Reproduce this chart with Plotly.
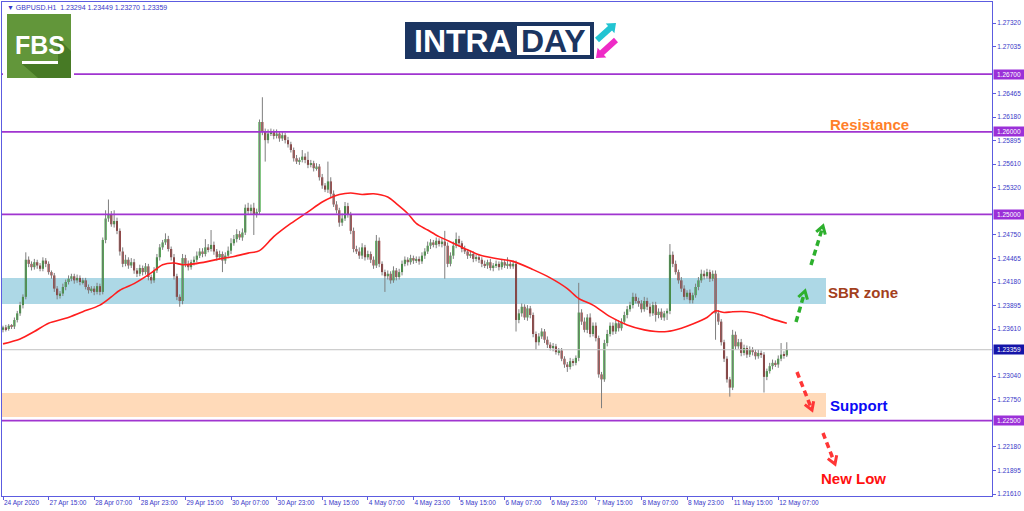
import math
import plotly.graph_objects as go

# GBPUSD H1, 24 Apr 2020 23:00 .. 12 May 2020 10:00
# prices kept in pips (0.0001) so the lists stay short
FIRST_OPEN = 12360
CLOSES = [
    12363, 12361, 12365, 12364, 12372, 12380, 12390, 12400, 12445, 12440,
    12436, 12442, 12438, 12434, 12444, 12440, 12430, 12426, 12410, 12402,
    12404, 12412, 12418, 12422, 12425, 12420, 12423, 12418, 12420, 12412,
    12408, 12410, 12406, 12413, 12406, 12469, 12495, 12500, 12488, 12492,
    12480, 12455, 12440, 12445, 12438, 12442, 12432, 12428, 12435, 12430,
    12437, 12424, 12420, 12432, 12448, 12460, 12466, 12470, 12458, 12448,
    12425, 12400, 12395, 12447, 12440, 12436, 12442, 12445, 12450, 12455,
    12452, 12460, 12458, 12463, 12455, 12448, 12452, 12444, 12450, 12456,
    12465, 12470, 12476, 12472, 12478, 12508, 12504, 12508, 12500, 12503,
    12612, 12600, 12590, 12598, 12600, 12595, 12598, 12592, 12596, 12590,
    12585, 12578, 12568, 12564, 12566, 12570, 12566, 12560, 12562, 12556,
    12558, 12545, 12535, 12530, 12540, 12525, 12512, 12505, 12490, 12495,
    12510, 12500, 12480, 12458, 12455, 12450, 12460, 12448, 12452, 12445,
    12438, 12468, 12440, 12430, 12425, 12428, 12420, 12432, 12424, 12430,
    12440, 12445, 12442, 12447, 12444, 12446, 12443, 12450, 12455, 12462,
    12466, 12463, 12468, 12464, 12467, 12462, 12440, 12450, 12462, 12470,
    12465, 12458, 12455, 12450, 12452, 12446, 12448, 12445, 12440, 12438,
    12442, 12435, 12438, 12440, 12436, 12442, 12438, 12440, 12437, 12440,
    12372, 12380, 12388, 12375, 12386, 12378, 12355, 12345, 12352, 12358,
    12348, 12342, 12338, 12340, 12333, 12335, 12325, 12318, 12315, 12322,
    12320, 12326, 12381, 12370, 12360, 12375, 12355, 12365, 12350, 12306,
    12300, 12344, 12355, 12365, 12358, 12368, 12362, 12370, 12378, 12385,
    12390, 12400, 12395, 12392, 12385, 12395, 12388, 12380, 12390, 12378,
    12382, 12375, 12380, 12383, 12451, 12440, 12430, 12420, 12410, 12400,
    12405, 12396, 12402, 12412, 12420, 12428, 12425, 12430, 12422, 12428,
    12380, 12370, 12345, 12325, 12300, 12290, 12354, 12340, 12345, 12332,
    12338, 12330, 12336, 12333, 12328, 12332, 12330, 12303, 12310, 12316,
    12320, 12318, 12325, 12330, 12329, 12336,
]
# wick lengths above / below the body, pips
UPPER_WICK = [
    2, 3, 2, 2, 3, 3, 4, 3, 9, 4,
    3, 4, 3, 3, 4, 3, 3, 2, 3, 3,
    3, 4, 3, 4, 3, 3, 4, 3, 3, 3,
    3, 3, 3, 4, 3, 3, 10, 18, 4, 13,
    4, 3, 5, 6, 3, 5, 4, 3, 4, 3,
    4, 3, 3, 4, 4, 4, 3, 7, 4, 3,
    4, 3, 3, 5, 4, 4, 3, 4, 5, 4,
    4, 10, 4, 18, 4, 3, 4, 3, 4, 5,
    6, 5, 6, 4, 5, 4, 6, 4, 6, 4,
    3, 30, 4, 5, 4, 3, 5, 3, 4, 3,
    4, 3, 3, 4, 3, 8, 4, 10, 4, 3,
    4, 3, 4, 3, 24, 5, 4, 4, 3, 6,
    5, 4, 3, 4, 4, 5, 5, 3, 4, 3,
    4, 7, 4, 3, 3, 4, 3, 5, 3, 4,
    4, 4, 3, 4, 3, 3, 3, 4, 4, 5,
    4, 3, 4, 3, 4, 13, 4, 4, 5, 8,
    4, 3, 4, 3, 4, 3, 3, 4, 3, 4,
    3, 4, 3, 4, 3, 4, 3, 8, 3, 4,
    4, 5, 4, 3, 4, 3, 3, 3, 4, 4,
    3, 4, 3, 4, 3, 3, 3, 3, 3, 4,
    3, 3, 36, 4, 5, 4, 5, 4, 4, 3,
    3, 4, 5, 4, 4, 5, 4, 4, 4, 4,
    4, 5, 4, 4, 4, 5, 4, 4, 4, 4,
    4, 4, 3, 3, 13, 4, 4, 3, 4, 4,
    3, 4, 3, 4, 4, 5, 4, 4, 3, 4,
    4, 4, 3, 3, 3, 3, 6, 4, 4, 4,
    4, 3, 4, 3, 3, 4, 3, 3, 3, 4,
    4, 3, 4, 14, 4, 9,
]
LOWER_WICK = [
    3, 3, 2, 3, 3, 3, 3, 4, 3, 4,
    4, 3, 4, 3, 3, 4, 3, 4, 4, 5,
    4, 3, 4, 3, 3, 4, 3, 4, 3, 3,
    4, 3, 4, 3, 4, 3, 4, 4, 3, 4,
    4, 5, 4, 3, 4, 3, 4, 4, 3, 4,
    3, 4, 4, 3, 3, 4, 3, 3, 3, 4,
    4, 4, 7, 4, 4, 4, 3, 4, 3, 3,
    4, 3, 4, 3, 4, 4, 3, 14, 4, 3,
    4, 3, 4, 3, 4, 3, 4, 4, 25, 4,
    3, 4, 26, 4, 3, 4, 3, 4, 3, 4,
    4, 3, 4, 3, 4, 3, 4, 4, 3, 4,
    3, 4, 4, 3, 4, 4, 3, 4, 5, 4,
    3, 4, 4, 4, 3, 4, 4, 4, 3, 4,
    4, 3, 4, 4, 19, 4, 4, 3, 4, 3,
    4, 3, 4, 3, 4, 3, 4, 3, 4, 3,
    4, 3, 4, 3, 4, 40, 4, 3, 4, 3,
    4, 4, 3, 4, 3, 4, 3, 4, 4, 3,
    4, 3, 4, 3, 4, 3, 3, 4, 3, 3,
    14, 4, 4, 3, 4, 4, 4, 9, 4, 3,
    4, 4, 3, 4, 3, 4, 3, 4, 6, 3,
    4, 3, 4, 4, 3, 4, 4, 3, 4, 4,
    35, 3, 4, 3, 4, 3, 4, 3, 3, 4,
    3, 4, 3, 4, 4, 3, 4, 4, 3, 8,
    4, 3, 4, 8, 4, 4, 3, 4, 4, 4,
    3, 4, 4, 3, 4, 3, 4, 3, 4, 3,
    32, 4, 4, 4, 4, 11, 3, 4, 3, 4,
    3, 4, 3, 4, 4, 3, 4, 19, 4, 3,
    4, 3, 4, 3, 4, 2,
]

# moving average (red line), read at a subset of bars
MA_BAR = [0, 6, 11, 16, 22, 28, 34, 38, 41, 46, 52, 56, 60, 63, 67, 72, 76, 81, 86, 90,
          95, 101, 107, 112, 118, 122, 126, 130, 135, 138, 142, 145, 149, 153, 158, 163, 167, 172,
          179, 186, 192, 198, 202, 207, 213, 219, 225, 229, 233, 238, 242, 247, 250, 253, 256,
          261, 266, 270, 275]
MA_VAL = [12343, 12349, 12358, 12368, 12374, 12382, 12390, 12400, 12408, 12416, 12429, 12439, 12441, 12439, 12440, 12443, 12446, 12449, 12453, 12456,
          12473, 12489, 12503, 12515, 12524, 12526, 12524, 12525, 12521, 12513, 12501, 12489, 12481, 12473, 12465, 12457, 12451, 12447,
          12443, 12433, 12423, 12410, 12398, 12390, 12376, 12366, 12360, 12358, 12358, 12362, 12367, 12375, 12383, 12381, 12382,
          12382, 12378, 12373, 12368]

TIME_TICKS = [0, 16, 32, 48, 64, 80, 96, 112, 128, 144, 160, 176, 192, 208, 224, 240, 256, 272]
TIME_LABELS = ['24 Apr 2020', '27 Apr 15:00', '28 Apr 07:00', '28 Apr 23:00', '29 Apr 15:00',
               '30 Apr 07:00', '30 Apr 23:00', '1 May 15:00', '4 May 07:00', '4 May 23:00',
               '5 May 15:00', '6 May 07:00', '6 May 23:00', '7 May 15:00', '8 May 07:00',
               '8 May 23:00', '11 May 15:00', '12 May 07:00']
PRICE_TICKS = [1.27320, 1.27035, 1.26465, 1.26180, 1.25895, 1.25610, 1.25320,
               1.24750, 1.24465, 1.24180, 1.23895, 1.23610, 1.23040, 1.22750,
               1.22180, 1.21895, 1.21610]

LEVELS = [1.26700, 1.26000, 1.25000, 1.22500]
LAST_PRICE = 1.23359
SBR_ZONE = (1.23914, 1.24229)
SUPPORT_ZONE = (1.22545, 1.22835)

# ---------------------------------------------------------------
W, H = 1024, 511
L, R, T, B = 2, 992, 2, 496          # plot box in screen pixels
X_RANGE = [-0.35, 347.0]
Y_RANGE = [1.215858, 1.275746]

PURPLE = '#A035D0'
AXIS = '#5C5CE0'
TXT = '#3838C8'


def px(x):
    return (x - L) / (R - L)


def py(y):
    return (B - y) / (B - T)


def path(points, close=False):
    s = 'M ' + ' L '.join(f'{px(a):.5f},{py(b):.5f}' for a, b in points)
    return s + (' Z' if close else '')


opens = [FIRST_OPEN] + CLOSES[:-1]
bars = list(range(len(CLOSES)))
highs = [max(o, c) + u for o, c, u in zip(opens, CLOSES, UPPER_WICK)]
lows = [min(o, c) - d for o, c, d in zip(opens, CLOSES, LOWER_WICK)]

wx, wy = [], []
for i, hi, lo in zip(bars, highs, lows):
    wx += [i, i, None]
    wy += [lo / 1e4, hi / 1e4, None]

body_base = [min(o, c) / 1e4 for o, c in zip(opens, CLOSES)]
body_h = [max(abs(c - o), 0.5) / 1e4 for o, c in zip(opens, CLOSES)]
body_col = ['#1A961A' if c >= o else '#8E1212' for o, c in zip(opens, CLOSES)]

fig = go.Figure()
fig.add_trace(go.Scatter(x=wx, y=wy, mode='lines', line=dict(color='#7E7E7E', width=1),
                         hoverinfo='skip', showlegend=False))
fig.add_trace(go.Bar(x=bars, y=body_h, base=body_base, width=0.72,
                     marker=dict(color=body_col, line=dict(width=0)),
                     hoverinfo='skip', showlegend=False))
fig.add_trace(go.Scatter(x=MA_BAR, y=[v / 1e4 for v in MA_VAL], mode='lines',
                         line=dict(color='#FF1E1E', width=1.6, shape='spline', smoothing=0.8),
                         hoverinfo='skip', showlegend=False))

shapes = []
# zones behind the candles
zone_end = px(826)
shapes.append(dict(type='rect', xref='paper', yref='y', x0=0, x1=zone_end,
                   y0=SBR_ZONE[0], y1=SBR_ZONE[1], fillcolor='#ADD8E6', line_width=0, layer='below'))
shapes.append(dict(type='rect', xref='paper', yref='y', x0=0, x1=zone_end,
                   y0=SUPPORT_ZONE[0], y1=SUPPORT_ZONE[1], fillcolor='#FFDAB9', line_width=0, layer='below'))
shapes.append(dict(type='line', xref='paper', yref='y', x0=0, x1=1, y0=LAST_PRICE, y1=LAST_PRICE,
                   line=dict(color='#C0C0C0', width=1)))
for lv in LEVELS:
    shapes.append(dict(type='line', xref='paper', yref='y', x0=0, x1=1, y0=lv, y1=lv,
                       line=dict(color=PURPLE, width=1.6)))

# FBS logo
shapes.append(dict(type='rect', xref='paper', yref='paper', x0=px(3), x1=px(74), y0=py(82), y1=py(9),
                   fillcolor='white', line_width=0))
shapes.append(dict(type='rect', xref='paper', yref='paper', x0=px(7), x1=px(71), y0=py(78), y1=py(14),
                   fillcolor='#62963A', line_width=0))
shapes.append(dict(type='path', xref='paper', yref='paper',
                   path=path([(57, 37), (71, 51), (71, 78), (38, 78), (22, 64), (58, 64), (58, 52)], True),
                   fillcolor='#477A25', line_width=0))
shapes.append(dict(type='rect', xref='paper', yref='paper', x0=px(22), x1=px(58), y0=py(64), y1=py(61),
                   fillcolor='white', line_width=0))

# INTRADAY logo
shapes.append(dict(type='rect', xref='paper', yref='paper', x0=px(405), x1=px(594), y0=py(59), y1=py(22),
                   fillcolor='#1B3561', line_width=0))
shapes.append(dict(type='rect', xref='paper', yref='paper', x0=px(517), x1=px(590), y0=py(55), y1=py(26),
                   fillcolor='white', line_width=0))


def block_arrow(tail, tip, shaft=6.0, head=13.0, head_len=8.0):
    dx, dy = tip[0] - tail[0], tip[1] - tail[1]
    n = math.hypot(dx, dy)
    ux, uy = dx / n, dy / n
    nx, ny = -uy, ux
    bx, by = tip[0] - ux * head_len, tip[1] - uy * head_len
    s, h = shaft / 2, head / 2
    return [(tail[0] + nx * s, tail[1] + ny * s), (bx + nx * s, by + ny * s), (bx + nx * h, by + ny * h),
            tip, (bx - nx * h, by - ny * h), (bx - nx * s, by - ny * s), (tail[0] - nx * s, tail[1] - ny * s)]


shapes.append(dict(type='path', xref='paper', yref='paper', path=path(block_arrow((597, 40), (616, 23)), True),
                   fillcolor='#22C4D2', line_width=0))
shapes.append(dict(type='path', xref='paper', yref='paper', path=path(block_arrow((616, 40), (596, 58)), True),
                   fillcolor='#EE2BC6', line_width=0))


# dashed forecast arrows
def dashed_arrow(tail, tip, color):
    dx, dy = tip[0] - tail[0], tip[1] - tail[1]
    n = math.hypot(dx, dy)
    ux, uy = dx / n, dy / n
    end = (tip[0] - ux * 3, tip[1] - uy * 3)
    out = [dict(type='line', xref='paper', yref='paper', x0=px(tail[0]), y0=py(tail[1]),
                x1=px(end[0]), y1=py(end[1]), line=dict(color=color, width=3.5, dash='6px,4px'))]
    arms = []
    for ang in (32, -32):
        a = math.radians(ang)
        rx = -ux * math.cos(a) + uy * math.sin(a)
        ry = -ux * math.sin(a) - uy * math.cos(a)
        arms.append((tip[0] + rx * 9, tip[1] + ry * 9))
    out.append(dict(type='path', xref='paper', yref='paper', path=path([arms[0], tip, arms[1]]),
                    line=dict(color=color, width=3)))
    return out


GREEN = '#2DB02D'
RED = '#FF3636'
shapes += dashed_arrow((796, 322), (805, 291), GREEN)
shapes += dashed_arrow((811, 265), (823, 226), GREEN)
shapes += dashed_arrow((797, 372), (812, 410), RED)
shapes += dashed_arrow((823, 433), (835, 464), RED)


def note(text, x, y, font, anchor='center'):
    return dict(xref='paper', yref='paper', x=px(x), y=py(y), xanchor=anchor, yanchor='middle',
                showarrow=False, text=text, font=font)


ann = []
ann.append(note('▼ GBPUSD.H1&nbsp; 1.23294 1.23449 1.23270 1.23359', 5, 7,
                dict(family='Liberation Sans', size=7, color=TXT), anchor='left'))
for lv in LEVELS:
    ann.append(dict(xref='paper', yref='y', x=1, y=lv, xanchor='left', yanchor='middle', xshift=1,
                    showarrow=False, text=f'{lv:.5f}', width=29, height=8, borderpad=0.5,
                    bgcolor='#9B30D8', font=dict(family='Liberation Sans', size=6.5, color='white')))
ann.append(dict(xref='paper', yref='y', x=1, y=LAST_PRICE, xanchor='left', yanchor='middle', xshift=1,
                showarrow=False, text=f'{LAST_PRICE:.5f}', width=29, height=8, borderpad=0.5,
                bgcolor='#1414A8', font=dict(family='Liberation Sans', size=6.5, color='white')))

ann.append(note('<b>FBS</b>', 40, 45,
                dict(family='Liberation Sans Narrow, Liberation Sans', size=25, color='white')))
ann.append(note('<b>INTRA</b>', 463, 41, dict(family='Liberation Sans', size=32, color='white')))
ann.append(note('<b>DAY</b>', 553, 41, dict(family='Liberation Sans', size=32, color='#1B3561')))

LABEL_FONT = 'Liberation Sans'
for text, cx, cy, col in [('Resistance', 869, 125, '#FF7F2A'), ('SBR zone', 863, 292, '#A3401C'),
                          ('Support', 859, 405, '#0A0AF5'), ('New Low', 853, 478, '#FF1010')]:
    ann.append(note(f'<b>{text}</b>', cx, cy, dict(family=LABEL_FONT, size=15, color=col)))

fig.update_layout(
    width=W, height=H,
    margin=dict(l=L, r=W - R, t=T, b=H - B, pad=0, autoexpand=False),
    paper_bgcolor='white', plot_bgcolor='white',
    barmode='overlay', showlegend=False,
    shapes=shapes, annotations=ann,
    xaxis=dict(range=X_RANGE, tickvals=TIME_TICKS, ticktext=TIME_LABELS, ticks='outside', ticklen=3,
               tickcolor=AXIS, ticklabelposition='outside right', tickangle=0, automargin=False,
               showgrid=False, zeroline=False,
               showline=True, linecolor=AXIS, linewidth=1, mirror=True,
               tickfont=dict(family='Liberation Sans', size=6.5, color=TXT)),
    yaxis=dict(range=Y_RANGE, side='right', tickvals=PRICE_TICKS, ticktext=[f'{v:.5f}' for v in PRICE_TICKS],
               ticks='outside', ticklen=3, tickcolor=AXIS, automargin=False, showgrid=False, zeroline=False,
               showline=True, linecolor=AXIS, linewidth=1, mirror=True,
               tickfont=dict(family='Liberation Sans', size=6.5, color=TXT)),
)

# the page body has an 8px default margin; drop it so the figure sits at the window corner
fig.write_html('out.html', config={'displayModeBar': False},
               post_script="document.body.style.margin='0px';")
